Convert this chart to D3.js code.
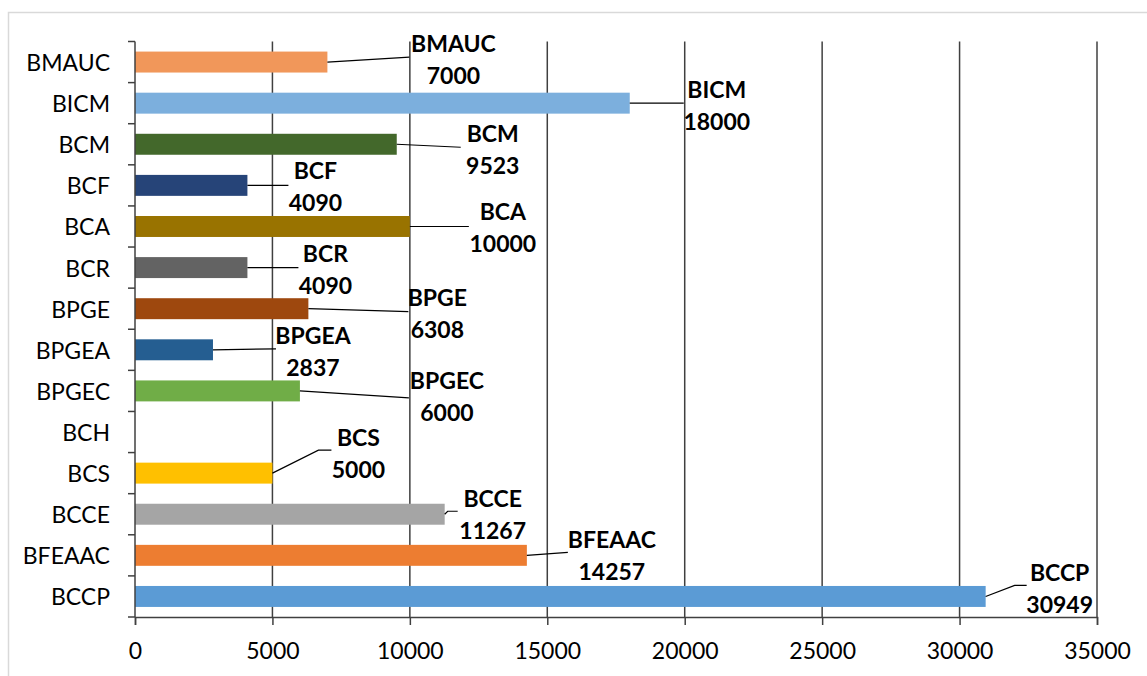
<!DOCTYPE html>
<html>
<head>
<meta charset="utf-8">
<script src="https://cdn.jsdelivr.net/npm/d3@7"></script>
<style>
  html, body { margin: 0; padding: 0; background: #fff; }
  svg { display: block; }
  text { font-family: Lato, "Noto Sans", sans-serif; }
</style>
</head>
<body>
<svg id="chart" width="1147" height="676"></svg>
<script>
// Categories top to bottom, with their values (BCH has no value)
const categories = ["BMAUC", "BICM", "BCM", "BCF", "BCA", "BCR", "BPGE", "BPGEA", "BPGEC", "BCH", "BCS", "BCCE", "BFEAAC", "BCCP"];
const values = [7000, 18000, 9523, 4090, 10000, 4090, 6308, 2837, 6000, null, 5000, 11267, 14257, 30949];
const colors = ["#F1975A", "#7CAFDD", "#43682B", "#264478", "#997300", "#636363", "#9E480E", "#255E91", "#70AD47", "#4472C4", "#FFC000", "#A5A5A5", "#ED7D31", "#5B9BD5"];
const xTicks = [0, 5000, 10000, 15000, 20000, 25000, 30000, 35000];

// Data-label placement: text centre offset from the bar end / bar middle,
// plus the leader-line points (same reference).
const labelPlacement = {
  BMAUC:  { text: [126, -3],  leader: [[82, -5]] },
  BICM:   { text: [87, 1.5],  leader: [[54, 0]] },
  BCM:    { text: [96, 4.5],  leader: [[64, 3]] },
  BCF:    { text: [68, 0.5],  leader: [[41, 0]] },
  BCA:    { text: [93, 1],    leader: [[59, 0]] },
  BCR:    { text: [78, 1.5],  leader: [[51, 0]] },
  BPGE:   { text: [129, 4],   leader: [[100, 3]] },
  BPGEA:  { text: [100, 1],   leader: [[63, -1]] },
  BPGEC:  { text: [147, 5.5], leader: [[109, 7]] },
  BCS:    { text: [86, -20.5], leader: [[46, -23], [59, -23]] },
  BCCE:   { text: [48, -0.5], leader: [[3, -3], [13, -3]] },
  BFEAAC: { text: [85, -0.5], leader: [[41, -3]] },
  BCCP:   { text: [74, -8],   leader: [[29, -11], [41, -11]] }
};

const svg = d3.select("#chart");
const W = 1147, H = 676;
const plot = { left: 135, right: 1097, top: 41.5, bottom: 617 };

// Chart area outline
svg.append("rect")
  .attr("x", 8.5).attr("y", 12.5)
  .attr("width", W + 20).attr("height", H + 20)
  .attr("fill", "#fff").attr("stroke", "#D9D9D9").attr("stroke-width", 1.5);

const x = d3.scaleLinear().domain([0, 35000]).range([plot.left, plot.right]);
const y = d3.scaleBand().domain(categories).range([plot.top, plot.bottom]).paddingInner(0.49).paddingOuter(0.245);

// Vertical gridlines
svg.append("g")
  .selectAll("line")
  .data(xTicks.slice(1))
  .join("line")
  .attr("x1", d => x(d)).attr("x2", d => x(d))
  .attr("y1", plot.top).attr("y2", plot.bottom)
  .attr("stroke", "#404040").attr("stroke-width", 1.5);

// Bars
const rows = categories.map((c, i) => ({ cat: c, value: values[i], color: colors[i] }));
svg.append("g")
  .selectAll("rect")
  .data(rows.filter(d => d.value != null))
  .join("rect")
  .attr("x", x(0))
  .attr("y", d => y(d.cat))
  .attr("width", d => x(d.value) - x(0))
  .attr("height", y.bandwidth())
  .attr("fill", d => d.color);

// Y axis with ticks at band boundaries
const step = y.step();
const yAxis = svg.append("g");
yAxis.append("line")
  .attr("x1", plot.left).attr("x2", plot.left)
  .attr("y1", plot.top).attr("y2", plot.bottom)
  .attr("stroke", "#404040").attr("stroke-width", 1.5);
yAxis.selectAll("line.tick")
  .data(d3.range(categories.length + 1))
  .join("line")
  .attr("class", "tick")
  .attr("x1", plot.left - 7).attr("x2", plot.left)
  .attr("y1", i => plot.top + i * step).attr("y2", i => plot.top + i * step)
  .attr("stroke", "#404040").attr("stroke-width", 1.5);
yAxis.selectAll("text")
  .data(categories)
  .join("text")
  .attr("x", 110)
  .attr("y", d => y(d) + y.bandwidth() / 2)
  .attr("text-anchor", "end")
  .attr("dominant-baseline", "central")
  .attr("font-size", 23)
  .attr("fill", "#000")
  .text(d => d);

// X axis
const xAxis = d3.axisBottom(x).tickValues(xTicks).tickSize(8).tickPadding(18).tickFormat(d3.format("d"));
const gx = svg.append("g").attr("transform", `translate(0,${plot.bottom})`).call(xAxis);
gx.select(".domain").attr("stroke", "#404040").attr("stroke-width", 1.5);
gx.selectAll(".tick line").attr("stroke", "#404040").attr("stroke-width", 1.5);
gx.selectAll(".tick text")
  .attr("font-family", "Lato, 'Noto Sans', sans-serif")
  .attr("font-size", 23)
  .attr("fill", "#000");

// Data labels with leader lines
const labels = svg.append("g");
rows.filter(d => d.value != null).forEach(d => {
  const p = labelPlacement[d.cat];
  const bx = x(d.value);
  const by = y(d.cat) + y.bandwidth() / 2;
  const pts = [[bx, by]].concat(p.leader.map(([dx, dy]) => [bx + dx, by + dy]));
  labels.append("path")
    .attr("d", d3.line()(pts))
    .attr("fill", "none")
    .attr("stroke", "#000")
    .attr("stroke-width", 1.2);
  const tx = bx + p.text[0], ty = by + p.text[1];
  const t = labels.append("text")
    .attr("text-anchor", "middle")
    .attr("font-size", 23)
    .attr("font-weight", "bold")
    .attr("fill", "#000");
  t.append("tspan").attr("x", tx).attr("y", ty - 16).attr("dominant-baseline", "central").text(d.cat);
  t.append("tspan").attr("x", tx).attr("y", ty + 16).attr("dominant-baseline", "central").text(d.value);
});
</script>
</body>
</html>
